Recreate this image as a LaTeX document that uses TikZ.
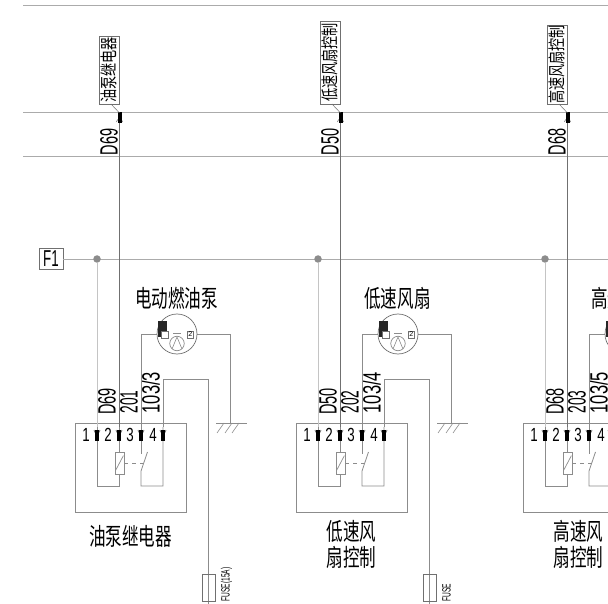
\documentclass[tikz,border=0pt]{standalone}
\usepackage{fontspec}
\usepackage{graphicx}
\setmainfont{Liberation Sans}
\newfontfamily\cjk{Noto Sans CJK SC}
\usetikzlibrary{calc}
\definecolor{wirelight}{HTML}{C4C4C4}
\definecolor{wirebus}{HTML}{ABABAB}
\definecolor{wiredark}{HTML}{707070}
\definecolor{wiremid}{HTML}{8C8C8C}
\newcommand{\narrow}[2][.62]{\scalebox{#1}[1]{#2}}
\newcommand{\pinmark}[1]{%
  \fill[white] ($(#1)+(-3,3)$) arc[start angle=180,end angle=0,radius=3] -- cycle;
  \draw[wiredark,line width=.8pt] ($(#1)+(-3,3)$) arc[start angle=180,end angle=0,radius=3];
  \fill[black] ($(#1)+(-2,3)$) rectangle ($(#1)+(2,13.5)$);}
\tikzset{
  wire/.style={wiremid,line width=.8pt},
  lightwire/.style={wirelight,line width=1pt},
  darkwire/.style={wiredark,line width=.8pt},
  frameline/.style={wirebus,line width=.9pt},
  junction/.style={circle,fill=wiremid,draw=none,minimum size=7.5pt,inner sep=0pt},
  wirelabel/.style={rotate=90,inner sep=0pt,anchor=base west,font=\fontsize{25}{25}\selectfont},
  pinlabel/.style={inner sep=0pt,font=\fontsize{19}{19}\selectfont},
  titlelabel/.style={inner sep=0pt,font=\cjk\fontsize{24}{24}\selectfont},
  taglabel/.style={rotate=90,draw=wiredark,line width=.6pt,inner sep=0pt,font=\cjk\fontsize{17.5}{17.5}\selectfont,minimum height=20pt},
  smallbox/.style={draw=wiredark,fill=white,line width=.6pt,minimum size=6.8pt,inner sep=0pt,font=\fontsize{7}{7}\selectfont},
  fusebox/.style={draw=wiredark,line width=.6pt,minimum width=13pt,minimum height=27pt,inner sep=0pt},
  fuselabel/.style={rotate=90,inner sep=0pt,anchor=base west,font=\fontsize{12}{12}\selectfont},
}
\begin{document}
\begin{tikzpicture}[x=1pt,y=-1pt]
\useasboundingbox (0,0) rectangle (608,604);
\clip (0,0) rectangle (608,604);
\fill[white] (0,0) rectangle (608,604);
% frame lines
\coordinate (topL) at (23,5.5); \coordinate (topR) at (608,5.5);
\coordinate (midL) at (23,112); \coordinate (midR) at (608,112);
\coordinate (lowL) at (23,156); \coordinate (lowR) at (608,156);
\draw[frameline] (topL)--(topR);
\draw[frameline] (midL)--(midR);
\draw[frameline] (lowL)--(lowR);
% F1
\node[draw=wiredark,line width=.6pt,minimum width=24pt,minimum height=21pt,inner sep=0pt,font=\fontsize{23}{23}\selectfont] (F1) at (51,258.7) {\narrow[.58]{F1}};
\coordinate (busR) at (608,259);
\draw[wirebus,line width=.8pt] (F1.east |- busR)--(busR);
% columns
\foreach \n/\off/\tagt/\tagy/\wa/\wb/\wc/\ttl/\btm/\boty/\fuse in {
  a/0/油泵继电器/70/D69/201/103\slash 3/电动燃油泵/油泵继电器/538/FUSE(15A),
  b/221/低速风扇控制/62.5/D50/202/103\slash 4/低速风扇/{低速风\\扇控制}/546.5/FUSE,
  c/448/高速风扇控制/64.5/D68/203/103\slash 5/高速风扇/{高速风\\扇控制}/546.5/FUSE}
{
\begin{scope}[shift={(\off,0)}]
  % relay box
  \node[draw=wiremid,line width=.8pt,minimum width=111pt,minimum height=89pt,inner sep=0pt] (box\n) at (130.5,467.5) {};
  % pins
  \coordinate (p1\n) at (97,427); \coordinate (p2\n) at (119,427);
  \coordinate (p3\n) at (141,427); \coordinate (p4\n) at (163,427);
  \coordinate (jun\n) at (97,259);
  \node[junction] (dot\n) at (jun\n) {};
  \draw[lightwire] (dot\n)--(p1\n);
  % tag and signal wire
  \coordinate (sig\n) at (119,123);
  \draw[darkwire] (sig\n)--(p2\n);
  \draw[wiredark,fill=white,line width=.6pt] (116.5,122) arc[start angle=180,end angle=360,radius=3];
  \fill[black] (117.5,112)rectangle(121.5,123);
  \node[taglabel,minimum width={(104-\tagy)*2*1pt}] (tag\n) at (109,\tagy) {\narrow[.75]{\tagt}\hspace{8pt}};
  \coordinate (lead\n) at (111,104);
  \coordinate (leadb\n) at (119.5,113);
  \draw[wiredark,line width=.5pt] (lead\n)--(leadb\n);
  \node[wirelabel] (top\n) at (117.5,155.5) {\narrow[.58]{\wa}};
  % wire labels
  \node[wirelabel] (la\n) at (115.5,415) {\narrow[.58]{\wa}};
  \node[wirelabel] (lb\n) at (137.5,413.5) {\narrow[.55]{\wb}};
  \node[wirelabel] (lc\n) at (159.5,413.5) {\narrow[.66]{\wc}};
  % pin numbers
  \node[pinlabel] (n1\n) at (86,435) {\narrow[.7]{1}};
  \node[pinlabel] (n2\n) at (108,435) {\narrow[.7]{2}};
  \node[pinlabel] (n3\n) at (130,435) {\narrow[.7]{3}};
  \node[pinlabel] (n4\n) at (153,435) {\narrow[.7]{4}};
  % inner relay
  \node[draw=wiremid,line width=.8pt,minimum width=9pt,minimum height=22pt,inner sep=0pt] (coil\n) at (119.5,463) {};
  \coordinate (c1\n) at (97,486); \coordinate (c2\n) at (119,486);
  \coordinate (c3\n) at (141,486); \coordinate (c4\n) at (163,486);
  \draw[wire] (p1\n)--(c1\n)--(c2\n)--(coil\n.south -| c2\n);
  \draw[wire] (p2\n)--(coil\n.north -| p2\n);
  \draw[wiremid,line width=.7pt] ($(coil\n.south west)+(1,-4)$)--($(coil\n.north east)+(-1,4)$);
  \coordinate (s3\n) at (141,454); \coordinate (s4\n) at (141,471);
  \coordinate (s5\n) at (147.5,452);
  \draw[wire] (p3\n)--(s3\n);
  \draw[wire] (s5\n)--(s4\n)--(c3\n)--(c4\n)--(p4\n);
  \coordinate (dashend\n) at (143.5,463);
  \draw[wiremid,line width=.7pt,dash pattern=on 4pt off 4pt] (coil\n.east)--(dashend\n);
  % motor wires
  \coordinate (mla\n) at (141,334);
  \coordinate (mra\n) at (230,334);
  \coordinate (gnd\n) at (230,423);
  \draw[wire] (p3\n)--(mla\n)--(157,334);
  \draw[wire] (197,334)--(mra\n)--(gnd\n);
  % motor
  \node[circle,draw=wiredark,line width=.7pt,minimum size=40pt,inner sep=0pt] (mot\n) at (177,334) {};
  \fill[black!85] (157.5,321) rectangle (167,332);
  \fill[black!85] (157.5,332) rectangle (161,337);
  \node[smallbox] (ma\n) at (164.7,335) {};
  \node[smallbox] (mb\n) at (190.3,334.5) {2};
  \node[circle,draw=wiremid,line width=.7pt,minimum size=14.5pt,inner sep=0pt] (rotor\n) at (177,343.5) {};
  \draw[wiremid,line width=.6pt] (172,349)--(177,337)--(182,349);
  \draw[wiremid,line width=.7pt] (173,333)--(181,333);
  \node[titlelabel] (ttl\n) at (176.5,298) {\narrow[.69]{\ttl}};
  % ground
  \coordinate (gl\n) at (216,423); \coordinate (gr\n) at (247,423);
  \draw[wiremid] (gl\n)--(gr\n);
  \foreach \gx in {224,232,239}{\draw[wiremid,line width=.6pt] (\gx,423)--(\gx-7,433);}
  % fuse path
  \coordinate (ra\n) at (163,379); \coordinate (rb\n) at (208,379);
  \coordinate (fend\n) at (208,603.5);
  \draw[wire] (p4\n)--(ra\n)--(rb\n)--(fend\n);
  \node[fusebox] (fuse\n) at (208.5,587.5) {};
  \node[fuselabel] (fl\n) at (229.5,601.5) {\narrow[.55]{\fuse}};
  % pin marks
  \foreach \k in {1,2,3,4}{\pinmark{p\k\n}}
  % bottom label
  \node[titlelabel] (btm\n) at (130.5,\boty) {\narrow[.69]{\renewcommand{\arraystretch}{.82}\begin{tabular}{@{}c@{}}\btm\end{tabular}}};
\end{scope}
}
\end{tikzpicture}
\end{document}
